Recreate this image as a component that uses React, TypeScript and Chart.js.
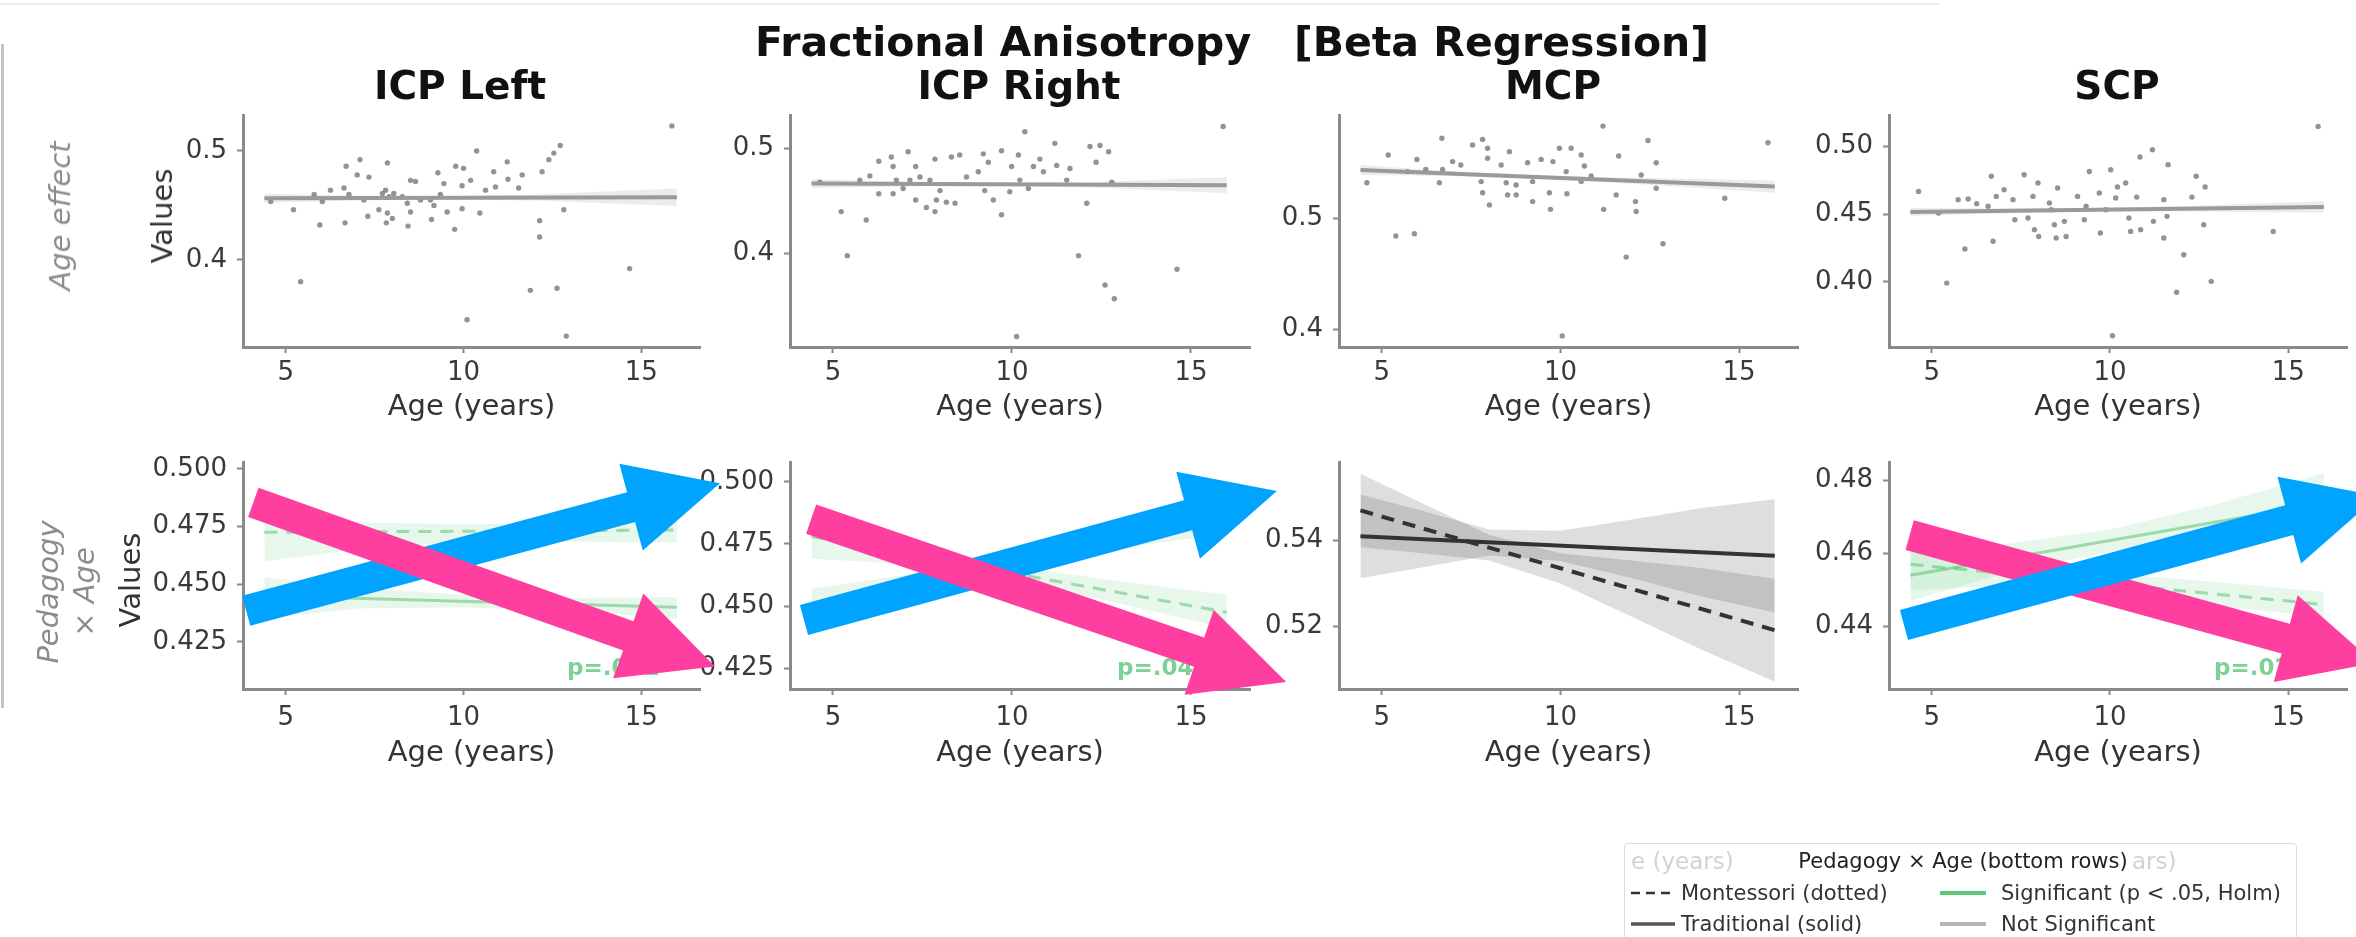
import React, { useEffect, useRef } from 'react';
import { Chart, registerables } from 'chart.js';

Chart.register(...registerables);

const FONT = "'DejaVu Sans', 'Liberation Sans', sans-serif";
Chart.defaults.font.family = FONT;
const W = 2356;
const H = 937;

// ---------------- data ----------------
const ageTicks = [5, 10, 15];
const ageMin = 3.8;
const ageMax = 16.65;
const fitAges = [4.4, 16];
const ciAges = [4.4, 7, 9.5, 12, 16];
const interactionAges = [4.4, 7, 10, 13, 16];
const mcpInteractionAges = [4.4, 6, 8, 10, 12, 14, 16];

const icpLeftPoints: number[][] = [
  [4.58, 0.4535], [5.22, 0.446], [5.42, 0.38], [5.8, 0.46], [5.96, 0.432], [6.03, 0.4535], [6.26, 0.464],
  [6.64, 0.466], [6.67, 0.434], [6.7, 0.486], [6.78, 0.46], [7.09, 0.492], [7.01, 0.478], [7.34, 0.476],
  [7.2, 0.455], [7.31, 0.44], [7.62, 0.446], [7.72, 0.461], [7.81, 0.464], [7.86, 0.489], [7.91, 0.458],
  [7.86, 0.443], [7.83, 0.434], [8.0, 0.438], [8.04, 0.461], [8.28, 0.458], [8.42, 0.452], [8.44, 0.431],
  [8.51, 0.444], [8.51, 0.473], [8.65, 0.472], [8.79, 0.455], [9.07, 0.455], [9.1, 0.437], [9.17, 0.45],
  [9.28, 0.48], [9.35, 0.46], [9.45, 0.47], [9.54, 0.444], [9.75, 0.428], [9.78, 0.486], [10.0, 0.484],
  [9.96, 0.468], [9.96, 0.447], [10.1, 0.345], [10.2, 0.473], [10.37, 0.5], [10.46, 0.443], [10.62, 0.464],
  [10.85, 0.481], [10.9, 0.467], [11.23, 0.49], [11.25, 0.474], [11.55, 0.466], [11.65, 0.478], [11.88, 0.372],
  [12.14, 0.436], [12.14, 0.421], [12.21, 0.481], [12.4, 0.492], [12.54, 0.498], [12.72, 0.505], [12.63, 0.374],
  [12.82, 0.446], [12.89, 0.33], [14.67, 0.392], [15.86, 0.523],
];
const icpLeftFit = [0.4566, 0.4575];
const icpLeftLo = [0.4525, 0.4545, 0.4555, 0.4545, 0.4495];
const icpLeftHi = [0.4607, 0.459, 0.4583, 0.46, 0.4655];

const icpRightPoints: number[][] = [
  [4.63, 0.468], [5.23, 0.44], [5.4, 0.398], [5.75, 0.47], [5.93, 0.432], [6.03, 0.474], [6.28, 0.488],
  [6.28, 0.457], [6.63, 0.492], [6.68, 0.483], [6.68, 0.457], [6.77, 0.47], [6.96, 0.462], [7.1, 0.497],
  [7.15, 0.47], [7.31, 0.483], [7.31, 0.451], [7.43, 0.473], [7.61, 0.444], [7.71, 0.47], [7.85, 0.49],
  [7.85, 0.44], [7.89, 0.451], [7.99, 0.46], [8.17, 0.449], [8.31, 0.492], [8.41, 0.448], [8.54, 0.494],
  [8.73, 0.473], [9.06, 0.478], [9.2, 0.495], [9.24, 0.46], [9.34, 0.487], [9.48, 0.451], [9.71, 0.498],
  [9.71, 0.437], [9.94, 0.459], [9.99, 0.483], [10.13, 0.321], [10.18, 0.494], [10.22, 0.47], [10.36, 0.516],
  [10.46, 0.462], [10.6, 0.483], [10.78, 0.49], [10.88, 0.478], [11.2, 0.505], [11.25, 0.484], [11.53, 0.47],
  [11.62, 0.481], [11.86, 0.398], [12.09, 0.448], [12.18, 0.502], [12.35, 0.487], [12.46, 0.503], [12.6, 0.37],
  [12.7, 0.497], [12.79, 0.468], [12.86, 0.357], [14.61, 0.385], [15.9, 0.521],
];
const icpRightFit = [0.4667, 0.4651];
const icpRightLo = [0.4625, 0.464, 0.4645, 0.4635, 0.4575];
const icpRightHi = [0.471, 0.4685, 0.4675, 0.468, 0.4727];

const mcpPoints: number[][] = [
  [4.58, 0.532], [5.18, 0.557], [5.39, 0.484], [5.72, 0.542], [5.91, 0.486], [5.98, 0.553], [6.23, 0.544],
  [6.61, 0.532], [6.68, 0.572], [6.7, 0.544], [6.98, 0.551], [7.21, 0.548], [7.54, 0.566], [7.78, 0.533],
  [7.82, 0.571], [7.82, 0.523], [7.96, 0.563], [7.96, 0.554], [8.01, 0.512], [8.34, 0.548], [8.48, 0.532],
  [8.52, 0.521], [8.57, 0.56], [8.76, 0.53], [8.76, 0.521], [9.08, 0.55], [9.22, 0.533], [9.22, 0.515],
  [9.46, 0.553], [9.69, 0.523], [9.72, 0.508], [9.79, 0.551], [9.97, 0.563], [10.05, 0.394], [10.16, 0.542],
  [10.18, 0.522], [10.3, 0.563], [10.58, 0.557], [10.58, 0.533], [10.67, 0.547], [10.86, 0.538], [11.19, 0.583],
  [11.21, 0.508], [11.56, 0.521], [11.63, 0.556], [11.84, 0.465], [12.1, 0.515], [12.12, 0.506], [12.26, 0.539],
  [12.45, 0.57], [12.68, 0.55], [12.68, 0.527], [12.87, 0.477], [14.6, 0.518], [15.81, 0.568],
];
const mcpFit = [0.5435, 0.5285];
const mcpLo = [0.539, 0.538, 0.5352, 0.531, 0.523];
const mcpHi = [0.548, 0.5422, 0.5386, 0.5364, 0.534];

const scpPoints: number[][] = [
  [4.63, 0.4667], [5.19, 0.4507], [5.42, 0.3991], [5.74, 0.4606], [5.93, 0.4242], [6.02, 0.4611], [6.26, 0.4576],
  [6.58, 0.4557], [6.67, 0.4778], [6.72, 0.4299], [6.81, 0.463], [7.03, 0.4679], [7.28, 0.4606], [7.33, 0.4458],
  [7.59, 0.479], [7.7, 0.4471], [7.84, 0.463], [7.88, 0.4385], [7.98, 0.4729], [8.0, 0.4335], [8.3, 0.4581],
  [8.35, 0.4532], [8.44, 0.4421], [8.49, 0.4323], [8.53, 0.4692], [8.72, 0.4446], [8.77, 0.4335], [9.09, 0.463],
  [9.28, 0.4458], [9.33, 0.4557], [9.42, 0.4814], [9.7, 0.4655], [9.73, 0.436], [9.88, 0.4532], [10.02, 0.4827],
  [10.07, 0.3603], [10.16, 0.4618], [10.21, 0.4699], [10.44, 0.4729], [10.53, 0.4471], [10.58, 0.4372], [10.75, 0.4625],
  [10.84, 0.492], [10.86, 0.4385], [11.19, 0.4974], [11.22, 0.4446], [11.51, 0.4606], [11.51, 0.4323], [11.6, 0.4483],
  [11.63, 0.4864], [11.87, 0.3923], [12.07, 0.42], [12.3, 0.4625], [12.42, 0.4778], [12.63, 0.4421], [12.67, 0.4699],
  [12.84, 0.4004], [14.58, 0.4372], [15.84, 0.5146],
];
const scpFit = [0.4515, 0.4552];
const scpLo = [0.4485, 0.4505, 0.4518, 0.452, 0.451];
const scpHi = [0.4545, 0.4541, 0.4544, 0.4558, 0.4594];

// Pedagogy x Age (bottom row)
const icpLeftMontLine = [0.4725, 0.4735];
const icpLeftMontLo = [0.46, 0.465, 0.4685, 0.4685, 0.468];
const icpLeftMontHi = [0.48, 0.4768, 0.476, 0.4765, 0.479];
const icpLeftTradLine = [0.445, 0.44];
const icpLeftTradLo = [0.435, 0.4395, 0.44, 0.4385, 0.435];
const icpLeftTradHi = [0.453, 0.4485, 0.4455, 0.444, 0.4445];

const icpRightMontLine = [0.478, 0.4475];
const icpRightMontLo = [0.469, 0.467, 0.4605, 0.451, 0.441];
const icpRightMontHi = [0.4875, 0.476, 0.466, 0.46, 0.4545];
const icpRightTradLine = [0.4503, 0.487];
const icpRightTradLo = [0.4435, 0.454, 0.465, 0.4735, 0.479];
const icpRightTradHi = [0.457, 0.4625, 0.471, 0.481, 0.4955];

const mcpMontLine = [0.5469, 0.5192];
const mcpMontLo = [0.5384, 0.5371, 0.5353, 0.53, 0.5223, 0.5145, 0.5073];
const mcpMontHi = [0.5554, 0.5491, 0.5413, 0.537, 0.5353, 0.5335, 0.5311];
const mcpTradLine = [0.5409, 0.5364];
const mcpTradLo = [0.5312, 0.5335, 0.5365, 0.5352, 0.5312, 0.5269, 0.5233];
const mcpTradHi = [0.5506, 0.5471, 0.5425, 0.5422, 0.5448, 0.5475, 0.5495];

const scpMontLine = [0.457, 0.446];
const scpMontLo = [0.45, 0.451, 0.449, 0.4455, 0.4427];
const scpMontHi = [0.464, 0.458, 0.4545, 0.4522, 0.4495];
const scpTradLine = [0.454, 0.4737];
const scpTradLo = [0.447, 0.4545, 0.4605, 0.464, 0.4655];
const scpTradHi = [0.461, 0.4625, 0.4665, 0.4735, 0.482];

// annotation arrows, in (age, value) of each panel
const icpLeftArrowPink = [[4.09, 0.4855], [17.07, 0.4143]];
const icpLeftArrowBlue = [[3.89, 0.4385], [17.21, 0.4938]];
const icpRightArrowPink = [[4.39, 0.485], [17.66, 0.4194]];
const icpRightArrowBlue = [[4.19, 0.4444], [17.4, 0.4963]];
const scpArrowPink = [[4.38, 0.465], [17.42, 0.43]];
const scpArrowBlue = [[4.22, 0.4404], [17.52, 0.4757]];

const tractTitles = ['ICP Left', 'ICP Right', 'MCP', 'SCP'];

// ---------------- layout & style ----------------
const colX = [[243, 700], [790, 1250], [1339, 1798], [1889, 2347]];
const titleX = [460, 1019, 1553, 2117];
const rowGeo = [
  { top: 115, bottom: 347, xH: 78, tickPad: 5, yW: 98 },
  { top: 462, bottom: 689, xH: 82, tickPad: 8, yW: 130 },
];
const AXIS = '#8a8a8a';
const TICK_TXT = '#3a3a3a';
const LABEL = '#333333';
const PINK = '#ff3fa0';
const BLUE = '#00a4ff';
const GREEN = '#5cc878';
const GREEN_LINE = 'rgba(80,190,105,0.5)';
const GREEN_BAND = 'rgba(110,205,135,0.17)';
const GRAY_LINE = '#333333';
const GRAY_BAND = 'rgba(0,0,0,0.13)';

const pts = (xs: number[], ys: number[]) => xs.map((x, i) => ({ x, y: ys[i] }));

function baseOptions(col: number, row: number, yMin: number, yMax: number, yTicks: number[], dec: number) {
  const [left, right] = colX[col];
  const g = rowGeo[row];
  const gridOpt = { display: true, drawOnChartArea: false, drawTicks: true, tickLength: 6, tickWidth: 2, tickColor: AXIS };
  return {
    responsive: false,
    animation: false,
    devicePixelRatio: 1,
    events: [],
    layout: { padding: { left: left - g.yW, top: g.top, right: W - right, bottom: H - g.bottom - g.xH } },
    plugins: { legend: { display: false }, tooltip: { enabled: false }, title: { display: false } },
    scales: {
      x: {
        type: 'linear',
        min: ageMin,
        max: ageMax,
        afterBuildTicks: (s: any) => { s.ticks = ageTicks.map((v) => ({ value: v })); },
        afterFit: (s: any) => { s.height = g.xH; },
        grid: gridOpt,
        border: { display: true, color: AXIS, width: 3 },
        ticks: { padding: g.tickPad, color: TICK_TXT, font: { size: 26 }, maxRotation: 0, autoSkip: false, callback: (v: any) => String(v) },
        title: { display: true, text: 'Age (years)', color: LABEL, font: { size: 29 }, padding: 0 },
      },
      y: {
        type: 'linear',
        min: yMin,
        max: yMax,
        afterBuildTicks: (s: any) => { s.ticks = yTicks.map((v) => ({ value: v })); },
        afterFit: (s: any) => { s.width = g.yW; },
        grid: gridOpt,
        border: { display: true, color: AXIS, width: 3 },
        ticks: { padding: 10, color: TICK_TXT, font: { size: 26 }, autoSkip: false, callback: (v: any) => Number(v).toFixed(dec) },
        title: { display: false },
      },
    },
  };
}

function drawArrow(ctx: CanvasRenderingContext2D, sx: number, sy: number, tx: number, ty: number, color: string) {
  const shaft = 31, headLen = 92, headW = 90;
  const dx = tx - sx, dy = ty - sy;
  const len = Math.hypot(dx, dy);
  const ux = dx / len, uy = dy / len;
  const nx = -uy, ny = ux;
  const bx = tx - ux * headLen, by = ty - uy * headLen;
  ctx.save();
  ctx.fillStyle = color;
  ctx.beginPath();
  ctx.moveTo(sx + nx * shaft / 2, sy + ny * shaft / 2);
  ctx.lineTo(bx + nx * shaft / 2, by + ny * shaft / 2);
  ctx.lineTo(bx + nx * headW / 2, by + ny * headW / 2);
  ctx.lineTo(tx, ty);
  ctx.lineTo(bx - nx * headW / 2, by - ny * headW / 2);
  ctx.lineTo(bx - nx * shaft / 2, by - ny * shaft / 2);
  ctx.lineTo(sx - nx * shaft / 2, sy - ny * shaft / 2);
  ctx.closePath();
  ctx.fill();
  ctx.restore();
}

function overlayPlugin(arrows: { a: number[][]; color: string }[], pText: string | null) {
  return {
    id: 'overlay',
    afterDraw(chart: any) {
      const { ctx, chartArea, scales } = chart;
      if (pText) {
        ctx.save();
        ctx.font = `bold 23px ${FONT}`;
        ctx.fillStyle = 'rgba(80,195,110,0.75)';
        ctx.textAlign = 'left';
        ctx.textBaseline = 'middle';
        ctx.fillText(pText, chartArea.right - 133, chartArea.bottom - 20);
        ctx.restore();
      }
      for (const ar of arrows) {
        drawArrow(
          ctx,
          scales.x.getPixelForValue(ar.a[0][0]),
          scales.y.getPixelForValue(ar.a[0][1]),
          scales.x.getPixelForValue(ar.a[1][0]),
          scales.y.getPixelForValue(ar.a[1][1]),
          ar.color,
        );
      }
    },
  };
}

function topConfig(col: number, points: number[][], fit: number[], lo: number[], hi: number[], yMin: number, yMax: number, yTicks: number[], dec: number) {
  return {
    type: 'scatter',
    data: {
      datasets: [
        { type: 'line', data: pts(fitAges, fit), borderColor: '#9a9a9a', borderWidth: 4, pointRadius: 0, fill: false, order: 0 },
        { type: 'scatter', data: points.map(([x, y]) => ({ x, y })), backgroundColor: 'rgba(120,120,120,0.8)', borderWidth: 0, pointRadius: 2.7, order: 1 },
        { type: 'line', data: pts(ciAges, hi), borderWidth: 0, pointRadius: 0, fill: '+1', backgroundColor: 'rgba(150,150,150,0.18)', order: 2 },
        { type: 'line', data: pts(ciAges, lo), borderWidth: 0, pointRadius: 0, fill: false, order: 3 },
      ],
    },
    options: baseOptions(col, 0, yMin, yMax, yTicks, dec),
  };
}

function bottomConfig(
  col: number, ages: number[],
  mont: number[], montLo: number[], montHi: number[],
  trad: number[], tradLo: number[], tradHi: number[],
  sig: boolean, yMin: number, yMax: number, yTicks: number[], dec: number,
  arrows: { a: number[][]; color: string }[], pText: string | null,
) {
  const lineC = sig ? GREEN_LINE : GRAY_LINE;
  const bandC = sig ? GREEN_BAND : GRAY_BAND;
  const lw = sig ? 3 : 4;
  return {
    type: 'scatter',
    data: {
      datasets: [
        { type: 'line', data: pts(fitAges, mont), borderColor: lineC, borderWidth: lw, borderDash: [13, 9], pointRadius: 0, fill: false, order: 0 },
        { type: 'line', data: pts(fitAges, trad), borderColor: lineC, borderWidth: lw, pointRadius: 0, fill: false, order: 1 },
        { type: 'line', data: pts(ages, montHi), borderWidth: 0, pointRadius: 0, fill: '+1', backgroundColor: bandC, order: 2 },
        { type: 'line', data: pts(ages, montLo), borderWidth: 0, pointRadius: 0, fill: false, order: 3 },
        { type: 'line', data: pts(ages, tradHi), borderWidth: 0, pointRadius: 0, fill: '+1', backgroundColor: bandC, order: 4 },
        { type: 'line', data: pts(ages, tradLo), borderWidth: 0, pointRadius: 0, fill: false, order: 5 },
      ],
    },
    options: baseOptions(col, 1, yMin, yMax, yTicks, dec),
    plugins: [overlayPlugin(arrows, pText)],
  };
}

const configs: any[] = [
  topConfig(0, icpLeftPoints, icpLeftFit, icpLeftLo, icpLeftHi, 0.32, 0.533, [0.4, 0.5], 1),
  topConfig(1, icpRightPoints, icpRightFit, icpRightLo, icpRightHi, 0.311, 0.532, [0.4, 0.5], 1),
  topConfig(2, mcpPoints, mcpFit, mcpLo, mcpHi, 0.384, 0.593, [0.4, 0.5], 1),
  topConfig(3, scpPoints, scpFit, scpLo, scpHi, 0.352, 0.523, [0.4, 0.45, 0.5], 2),
  bottomConfig(0, interactionAges, icpLeftMontLine, icpLeftMontLo, icpLeftMontHi, icpLeftTradLine, icpLeftTradLo, icpLeftTradHi,
    true, 0.4046, 0.503, [0.425, 0.45, 0.475, 0.5], 3,
    [{ a: icpLeftArrowBlue, color: BLUE }, { a: icpLeftArrowPink, color: PINK }], 'p=.031'),
  bottomConfig(1, interactionAges, icpRightMontLine, icpRightMontLo, icpRightMontHi, icpRightTradLine, icpRightTradLo, icpRightTradHi,
    true, 0.4166, 0.508, [0.425, 0.45, 0.475, 0.5], 3,
    [{ a: icpRightArrowBlue, color: BLUE }, { a: icpRightArrowPink, color: PINK }], 'p=.046'),
  bottomConfig(2, mcpInteractionAges, mcpMontLine, mcpMontLo, mcpMontHi, mcpTradLine, mcpTradLo, mcpTradHi,
    false, 0.5056, 0.5581, [0.52, 0.54], 2, [], null),
  bottomConfig(3, interactionAges, scpMontLine, scpMontLo, scpMontHi, scpTradLine, scpTradLo, scpTradHi,
    true, 0.4229, 0.485, [0.44, 0.46, 0.48], 2,
    [{ a: scpArrowPink, color: PINK }, { a: scpArrowBlue, color: BLUE }], 'p=.028'),
];
const zOrder = [1, 1, 1, 1, 8, 7, 6, 5];

export default function App() {
  const refs = useRef<(HTMLCanvasElement | null)[]>([]);
  useEffect(() => {
    const charts = configs.map((cfg, i) => new Chart(refs.current[i] as HTMLCanvasElement, cfg));
    return () => charts.forEach((c) => c.destroy());
  }, []);

  const abs: React.CSSProperties = { position: 'absolute' };
  const rot: React.CSSProperties = { position: 'absolute', transform: 'translate(-50%, -50%) rotate(-90deg)', whiteSpace: 'nowrap', zIndex: 20 };
  return (
    <div style={{ position: 'absolute', left: 0, top: 0, width: W, height: H, overflow: 'hidden', background: '#fff', fontFamily: FONT }}>
      <div style={{ ...abs, left: 0, top: 3, width: 1940, height: 2, background: '#ececec' }} />
      <div style={{ ...abs, left: 1, top: 44, width: 3, height: 664, background: '#c4c4c4' }} />
      {configs.map((_, i) => (
        <canvas
          key={i}
          ref={(el) => { refs.current[i] = el; }}
          width={W}
          height={H}
          style={{ ...abs, left: 0, top: 0, width: W, height: H, zIndex: zOrder[i] }}
        />
      ))}
      <div style={{ ...abs, left: 1232, top: 42, transform: 'translate(-50%, -50%)', whiteSpace: 'pre', fontWeight: 'bold', fontSize: 41, color: '#111', zIndex: 20 }}>
        {'Fractional Anisotropy   [Beta Regression]'}
      </div>
      {tractTitles.map((t, i) => (
        <div key={t} style={{ ...abs, left: titleX[i], top: 85, transform: 'translate(-50%, -50%)', whiteSpace: 'nowrap', fontWeight: 'bold', fontSize: 39, color: '#111', zIndex: 20 }}>
          {t}
        </div>
      ))}
      <div style={{ ...rot, left: 162, top: 216, fontSize: 29, color: LABEL }}>Values</div>
      <div style={{ ...rot, left: 130, top: 580, fontSize: 29, color: LABEL }}>Values</div>
      <div style={{ ...rot, left: 60, top: 216, fontStyle: 'italic', fontSize: 29, color: '#8c8c8c' }}>Age effect</div>
      <div style={{ ...rot, left: 66, top: 592, fontStyle: 'italic', fontSize: 29, lineHeight: '36px', textAlign: 'center', color: '#8c8c8c' }}>
        Pedagogy<br />× Age
      </div>
      <div style={{ ...abs, left: 1624, top: 843, width: 671, height: 120, border: '1px solid #dcdcdc', borderRadius: 4, background: 'rgba(255,255,255,0.92)', zIndex: 20, fontSize: 21, color: '#333' }}>
        <div style={{ ...abs, left: 6, top: 17, transform: 'translateY(-50%)', color: '#d2d2d2', fontSize: 23, whiteSpace: 'nowrap' }}>e (years)</div>
        <div style={{ ...abs, left: 507, top: 17, transform: 'translateY(-50%)', color: '#d2d2d2', fontSize: 23, whiteSpace: 'nowrap' }}>ars)</div>
        <div style={{ ...abs, left: 338, top: 17, transform: 'translate(-50%, -50%)', whiteSpace: 'nowrap', color: '#222' }}>Pedagogy × Age (bottom rows)</div>
        <svg style={{ ...abs, left: 6, top: 46 }} width={44} height={6}>
          <line x1={0} y1={3} x2={44} y2={3} stroke="#333" strokeWidth={2.5} strokeDasharray="9 6" />
        </svg>
        <div style={{ ...abs, left: 56, top: 49, transform: 'translateY(-50%)', whiteSpace: 'nowrap' }}>Montessori (dotted)</div>
        <svg style={{ ...abs, left: 315, top: 46 }} width={46} height={6}>
          <line x1={0} y1={3} x2={46} y2={3} stroke={GREEN} strokeWidth={4} />
        </svg>
        <div style={{ ...abs, left: 376, top: 49, transform: 'translateY(-50%)', whiteSpace: 'nowrap' }}>Significant (p &lt; .05, Holm)</div>
        <svg style={{ ...abs, left: 6, top: 77 }} width={44} height={6}>
          <line x1={0} y1={3} x2={44} y2={3} stroke="#555" strokeWidth={3.5} />
        </svg>
        <div style={{ ...abs, left: 56, top: 80, transform: 'translateY(-50%)', whiteSpace: 'nowrap' }}>Traditional (solid)</div>
        <svg style={{ ...abs, left: 315, top: 77 }} width={46} height={6}>
          <line x1={0} y1={3} x2={46} y2={3} stroke="#b4b4b4" strokeWidth={4} />
        </svg>
        <div style={{ ...abs, left: 376, top: 80, transform: 'translateY(-50%)', whiteSpace: 'nowrap' }}>Not Significant</div>
      </div>
    </div>
  );
}
